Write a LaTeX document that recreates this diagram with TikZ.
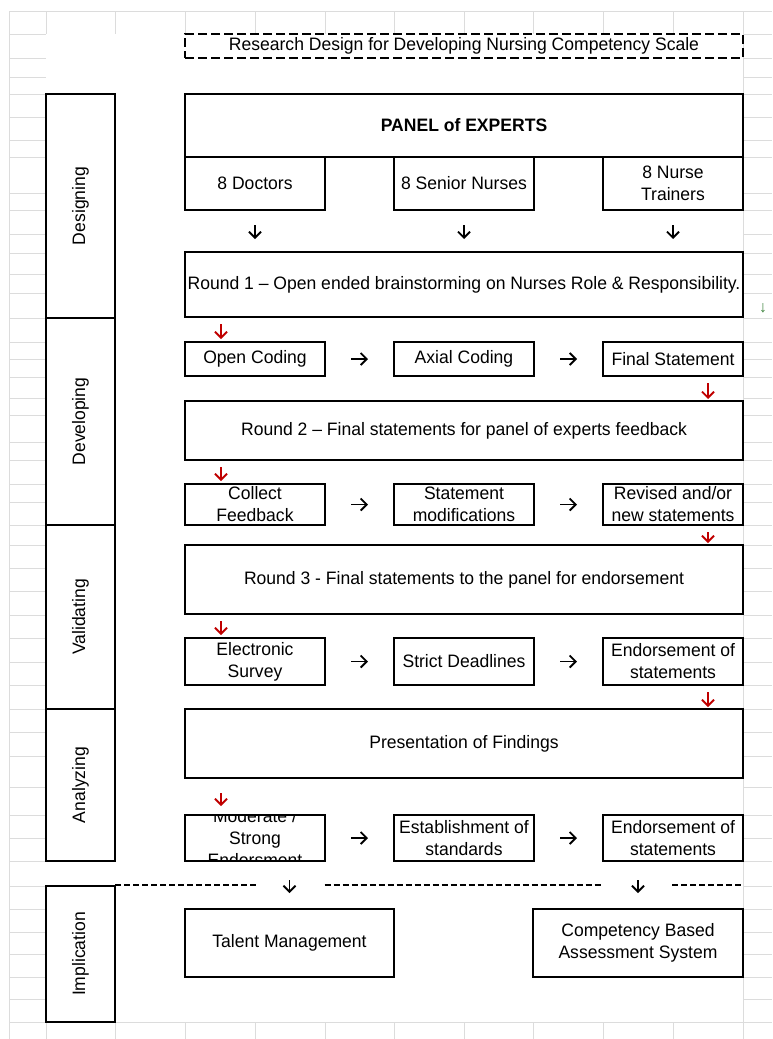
\documentclass[tikz,border=0pt]{standalone}
\usepackage{fontspec}
\setmainfont{Liberation Sans}[FakeStretch=0.975]
\usetikzlibrary{shapes,arrows,arrows.meta,calc,positioning,backgrounds}

\definecolor{arrowred}{RGB}{192,0,0}
\definecolor{spillgreen}{RGB}{60,130,60}
\definecolor{gridgray}{RGB}{220,220,220}

\begin{document}
\begin{tikzpicture}[x=0.5pt,y=-0.5pt,
  font=\fontsize{9}{11}\selectfont,
  box/.style={draw,line width=1pt,inner sep=0pt,outer sep=0pt,align=center,anchor=north west},
  phase/.style={draw,line width=1pt,inner sep=0pt,outer sep=0pt,rotate=90,minimum height=34.5pt},
  arr/.style={-{Straight Barb[length=3pt,width=6pt]},line width=0.9pt},
  redarr/.style={arr,draw=arrowred},
  cutline/.style={dash pattern=on 3pt off 1.5pt,line width=0.7pt},
  gridline/.style={gridgray,line width=0.5pt}]
  \useasboundingbox (0,0) rectangle (772,1039);

  % sheet grid
  \foreach \gx in {9,46,115,185,255,325,394,464,533,603,673,743}
    \draw[gridline] (\gx,11) -- (\gx,1039);
  \foreach \gy in {11,34,58,77,94,117,140,157,193,210,234,253,274,293,318,342,359,377,398,415,442,460,484,502,525,545,568,591,615,638,662,685,709,732,756,787,815,838,861,886,909,932,954,977,999,1022}
    \draw[gridline] (9,\gy) -- (772,\gy);
  \fill[white] (46,34) rectangle (743,1022);

  \node[box,line width=0.75pt,dash pattern=on 4.5pt off 2pt,minimum width=279pt,minimum height=12pt] (title) at (185,34) {Research Design for Developing Nursing Competency Scale};

  % phases
  \node[phase,minimum width=112pt] (designing) at (80.5,206) {Designing};
  \node[phase,minimum width=103.5pt] (developing) at (80.5,421.5) {Developing};
  \node[phase,minimum width=92pt] (validating) at (80.5,617) {Validating};
  \node[phase,minimum width=76pt] (analyzing) at (80.5,785) {Analyzing};
  \node[phase,minimum width=68pt] (implication) at (80.5,954) {Implication};

  % designing
  \node[box,minimum width=279pt,minimum height=31.5pt,font=\fontsize{9}{11}\selectfont\bfseries] (panel) at (185,94) {PANEL of EXPERTS};
  \node[box,minimum width=70pt,minimum height=26.5pt] (doctors) at (185,157) {8 Doctors};
  \node[box,minimum width=70pt,minimum height=26.5pt] (seniors) at (394,157) {8 Senior Nurses};
  \node[box,minimum width=70pt,minimum height=26.5pt] (trainers) at (603,157) {8 Nurse\\Trainers};
  \node[box,minimum width=279pt,minimum height=32.5pt] (round1) at (185,252) {Round 1 -- Open ended brainstorming on Nurses Role \& Responsibility.};

  % developing
  \node[box,minimum width=70pt,minimum height=17pt] (open) at (185,342) {Open Coding};
  \node[box,minimum width=70pt,minimum height=17pt] (axial) at (394,342) {Axial Coding};
  \node[box,minimum width=70pt,minimum height=17pt] (final) at (603,342) {Final Statement};
  \node[box,minimum width=279pt,minimum height=29.5pt] (round2) at (185,401) {Round 2 -- Final statements for panel of experts feedback};
  \node[box,minimum width=70pt,minimum height=20.5pt] (collect) at (185,484) {Collect\\Feedback};
  \node[box,minimum width=70pt,minimum height=20.5pt] (modif) at (394,484) {Statement\\modifications};
  \node[box,minimum width=70pt,minimum height=20.5pt] (revised) at (603,484) {Revised and/or\\new statements};

  % validating
  \node[box,minimum width=279pt,minimum height=34.5pt] (round3) at (185,545) {Round 3 - Final statements to the panel for endorsement};
  \node[box,minimum width=70pt,minimum height=23.5pt] (survey) at (185,638) {Electronic\\Survey};
  \node[box,minimum width=70pt,minimum height=23.5pt] (deadlines) at (394,638) {Strict Deadlines};
  \node[box,minimum width=70pt,minimum height=23.5pt] (endorse) at (603,638) {Endorsement of\\statements};

  % analyzing
  \node[box,minimum width=279pt,minimum height=34.5pt] (findings) at (185,709) {Presentation of Findings};
  \node[box,minimum width=70pt,minimum height=23pt] (moderate) at (185,815) {};
  \begin{scope}
    \clip ([yshift=-0.5pt]moderate.north west) rectangle ([yshift=0.5pt]moderate.south east);
    \node[align=center,inner sep=0pt] (moderatetext) at (moderate.center) {Moderate /\\Strong\\Endorsment};
  \end{scope}
  \node[box,minimum width=70pt,minimum height=23pt] (establish) at (394,815) {Establishment of\\standards};
  \node[box,minimum width=70pt,minimum height=23pt] (endorsetwo) at (603,815) {Endorsement of\\statements};

  % implication
  \node[box,minimum width=104.5pt,minimum height=34pt] (talent) at (185,909) {Talent Management};
  \node[box,minimum width=105pt,minimum height=34pt] (cbas) at (533,909) {Competency Based\\Assessment System};

  \node[text=spillgreen,font=\fontsize{8}{9}\selectfont,inner sep=0pt] (spill) at (763,308) {↓};

  % arrows
  \foreach \src in {doctors,seniors,trainers}
    \draw[arr,shorten <=7.5pt,shorten >=6.5pt] (\src.south) -- (\src.south |- round1.north);
  \foreach \a/\b in {open/axial,axial/final,collect/modif,modif/revised,survey/deadlines,deadlines/endorse,moderate/establish,establish/endorsetwo}
    \draw[arr,shorten <=13pt,shorten >=13pt] (\a) -- (\b);

  \foreach \a/\b in {round1/open,round2/collect,round3/survey}
    \draw[redarr,shorten <=3.5pt,shorten >=1.5pt] ([xshift=18pt]\b.north west |- \a.south) -- ([xshift=18pt]\b.north west);
  \foreach \a/\b in {final/round2,revised/round3,endorse/findings}
    \draw[redarr,shorten <=3.5pt,shorten >=1pt] ([xshift=-17.5pt]\a.south east) -- ([xshift=-17.5pt]\a.south east |- \b.north);
  \draw[redarr,shorten <=7.5pt,shorten >=4.5pt] ([xshift=18pt]moderate.north west |- findings.south) -- ([xshift=18pt]moderate.north west);

  \coordinate (cutstart) at (115,885);
  \coordinate (cutend) at (743,885);
  \draw[cutline] (cutstart) -- ([xshift=-16pt]cutstart -| talent.north);
  \draw[cutline] ([xshift=17.5pt]cutstart -| talent.north) -- ([xshift=-18pt]cutstart -| cbas.north);
  \draw[cutline] ([xshift=17pt]cutstart -| cbas.north) -- (cutend);
  \draw[arr,shorten >=8pt] ([yshift=2.5pt]cutstart -| talent.north) -- (talent.north);
  \draw[arr,shorten >=8pt] ([yshift=2.5pt]cutstart -| cbas.north) -- (cbas.north);

\end{tikzpicture}
\end{document}
